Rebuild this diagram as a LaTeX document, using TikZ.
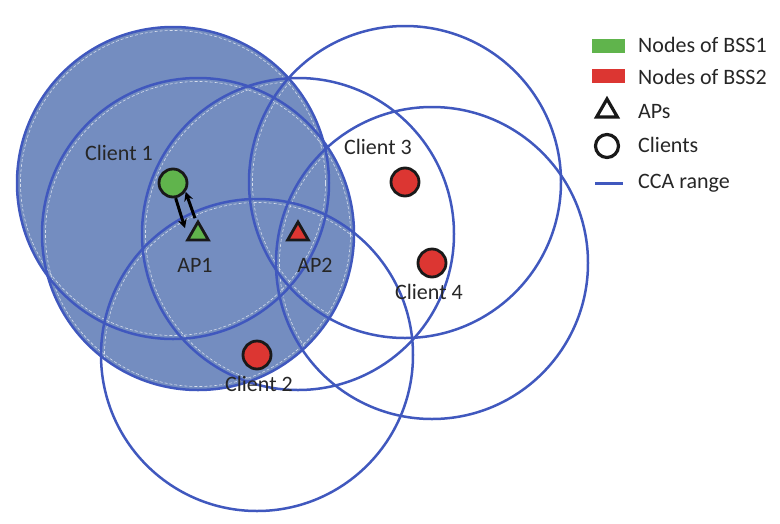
\documentclass[tikz,border=0pt]{standalone}
\usepackage{fontspec}
\setmainfont{Carlito}
\usetikzlibrary{arrows.meta,positioning,shapes.geometric}

\definecolor{bssgreen}{RGB}{96,180,76}
\definecolor{bssred}{RGB}{220,54,50}
\definecolor{ccablue}{RGB}{64,88,190}
\definecolor{bssshade}{RGB}{116,141,192}

\begin{document}
\begin{tikzpicture}[
  x=1pt, y=-1pt,
  >=Stealth,
  lbl/.style={font=\fontsize{22}{25}\selectfont, text=black!85, inner sep=0pt},
  client/.style={circle, draw=black!90, line width=2.8pt, minimum size=28pt, inner sep=0pt},
  apnode/.style={regular polygon, regular polygon sides=3, draw=black!90, line width=2.8pt, minimum size=24pt, inner sep=0pt},
  cca/.style={draw=ccablue, line width=2.5pt},
  swatch/.style={minimum width=33pt, minimum height=14pt, inner sep=0pt},
  linkarrow/.style={line width=3pt, -{Stealth[length=9pt,width=9pt]}}
]
\useasboundingbox (0,0) rectangle (780,523);

% Node positions
\coordinate (pC1) at (173,183);
\coordinate (pAP1) at (198,234);
\coordinate (pAP2) at (298,234);
\coordinate (pC2) at (257,355);
\coordinate (pC3) at (405,182);
\coordinate (pC4) at (432,263);

% BSS1 area
\fill[bssshade] (pC1) circle[radius=156pt] (pAP1) circle[radius=156pt];
\begin{scope}
  \clip (pC1) circle[radius=156pt] (pAP1) circle[radius=156pt];
  \foreach \p in {pC1,pAP1,pAP2,pC2,pC3,pC4} {
    \draw[white, dash pattern=on 3pt off 2pt, line width=0.6pt, opacity=0.7] (\p) circle[radius=152.5pt];
  }
\end{scope}

% CCA ranges
\foreach \p in {pC1,pAP1,pAP2,pC2,pC3,pC4} {
  \draw[cca] (\p) circle[radius=156pt];
}

% Nodes
\node[client, fill=bssgreen] (c1) at (pC1) {};
\node[apnode, fill=bssgreen] (ap1) at (pAP1) {};
\node[apnode, fill=bssred] (ap2) at (pAP2) {};
\node[client, fill=bssred] (c2) at (pC2) {};
\node[client, fill=bssred] (c3) at (pC3) {};
\node[client, fill=bssred] (c4) at (pC4) {};

% Links between Client 1 and AP1
\draw[linkarrow] (c1.-80) -- ([shift={(-13pt,-9pt)}]ap1.north);
\draw[linkarrow] ([shift={(-3pt,1pt)}]ap1.north) -- (c1.-35);

% Labels
\node[lbl] (lC1) at (119,153) {Client 1};
\node[lbl] (lAP1) at (195,265) {AP1};
\node[lbl] (lAP2) at (315,265) {AP2};
\node[lbl] (lC2) at (259,384) {Client 2};
\node[lbl] (lC3) at (378,147) {Client 3};
\node[lbl] (lC4) at (429,292) {Client 4};

% Legend
\node[swatch, fill=bssgreen] (lgG) at (608,46) {};
\node[lbl, anchor=base west] (lgGt) at (638,52) {Nodes of BSS1};
\node[swatch, fill=bssred] (lgR) at (608,76) {};
\node[lbl, anchor=base west] (lgRt) at (638,84) {Nodes of BSS2};
\node[apnode, line width=3.2pt] (lgA) at (607,111) {};
\node[lbl, anchor=base west] (lgAt) at (638,118) {APs};
\node[client, minimum size=23pt, line width=3.2pt] (lgC) at (607,146) {};
\node[lbl, anchor=base west] (lgCt) at (638,152) {Clients};
\coordinate (lgL1) at (595,183);
\coordinate (lgL2) at (623,183);
\draw[draw=ccablue, line width=3pt] (lgL1) -- (lgL2);
\node[lbl, anchor=base west] (lgLt) at (638,188) {CCA range};

\end{tikzpicture}
\end{document}
